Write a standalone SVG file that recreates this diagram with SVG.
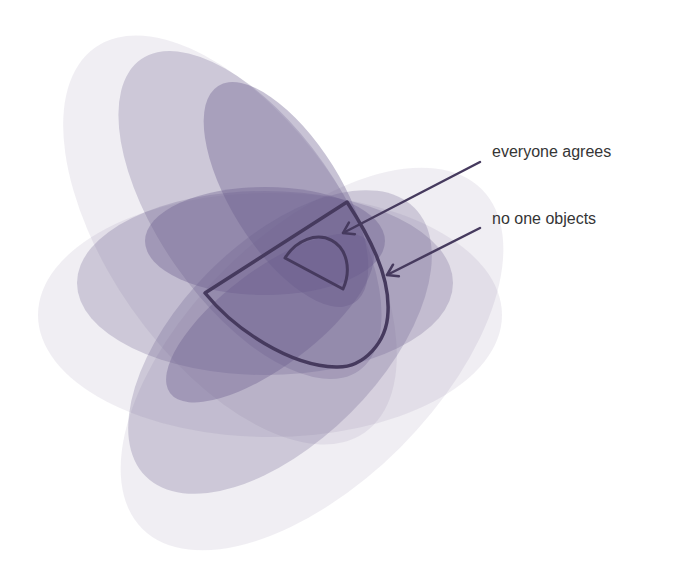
<svg xmlns="http://www.w3.org/2000/svg" width="681" height="581" viewBox="0 0 681 581">
  <defs>
    <style>
      .f { fill: #6a5c8c; fill-opacity: 0.1; }
      .m { fill: #6a5c8c; fill-opacity: 0.26; }
      .d { fill: #6a5c8c; fill-opacity: 0.37; }
      .outline { fill: none; stroke: #463a5e; stroke-linejoin: round; }
      .conn { fill: none; stroke: #463a5e; stroke-width: 2.5; stroke-linecap: round; }
      .label { font-family: "Liberation Sans", Arial, sans-serif; font-size: 16px; fill: #353535; }
    </style>
    <marker id="arr" viewBox="-12 -8 14 16" markerWidth="14" markerHeight="16" refX="0" refY="0" orient="auto" markerUnits="userSpaceOnUse">
      <path d="M-10,-6.5 L0,0 L-10,6.5" fill="none" stroke="#463a5e" stroke-width="2.5" stroke-linecap="round" stroke-linejoin="round"/>
    </marker>
  </defs>
  <rect width="681" height="581" fill="#ffffff"/>

  <g id="group-tilted-down">
    <ellipse class="f" cx="230" cy="240" rx="235" ry="120" transform="rotate(55 230 240)"/>
    <ellipse class="m" cx="250" cy="215" rx="190" ry="90" transform="rotate(55 250 215)"/>
    <ellipse class="d" cx="286" cy="194.5" rx="128" ry="55" transform="rotate(58 286 194.5)"/>
  </g>
  <g id="group-horizontal">
    <ellipse class="f" cx="270" cy="315" rx="232" ry="122"/>
    <ellipse class="m" cx="265" cy="283" rx="188" ry="92"/>
    <ellipse class="d" cx="265" cy="241" rx="120" ry="54"/>
  </g>
  <g id="group-tilted-up">
    <ellipse class="f" cx="312" cy="359" rx="240" ry="125" transform="rotate(-45 312 359)"/>
    <ellipse class="m" cx="280" cy="342" rx="190" ry="100" transform="rotate(-45 280 342)"/>
    <ellipse class="d" cx="270" cy="318" rx="125" ry="48" transform="rotate(-37 270 318)"/>
  </g>

  <g id="no-one-objects-region">
    <path class="outline" stroke-width="3.5" d="M205,293 L347,202 C369,236 390,275 388,312 C387,342 364,368 336,367 C290,366 235,330 205,293 Z"/>
  </g>
  <g id="everyone-agrees-region">
    <path class="outline" stroke-width="3" d="M285,258 L343,289 A33,41 28.1 0 0 285,258 Z"/>
  </g>

  <g id="connectors">
    <line class="conn" x1="480" y1="162" x2="343" y2="233" marker-end="url(#arr)"/>
    <line class="conn" x1="480" y1="228" x2="387" y2="275" marker-end="url(#arr)"/>
  </g>

  <g id="label-everyone-agrees">
    <text class="label" x="492" y="157">everyone agrees</text>
  </g>
  <g id="label-no-one-objects">
    <text class="label" x="492" y="224">no one objects</text>
  </g>
</svg>
